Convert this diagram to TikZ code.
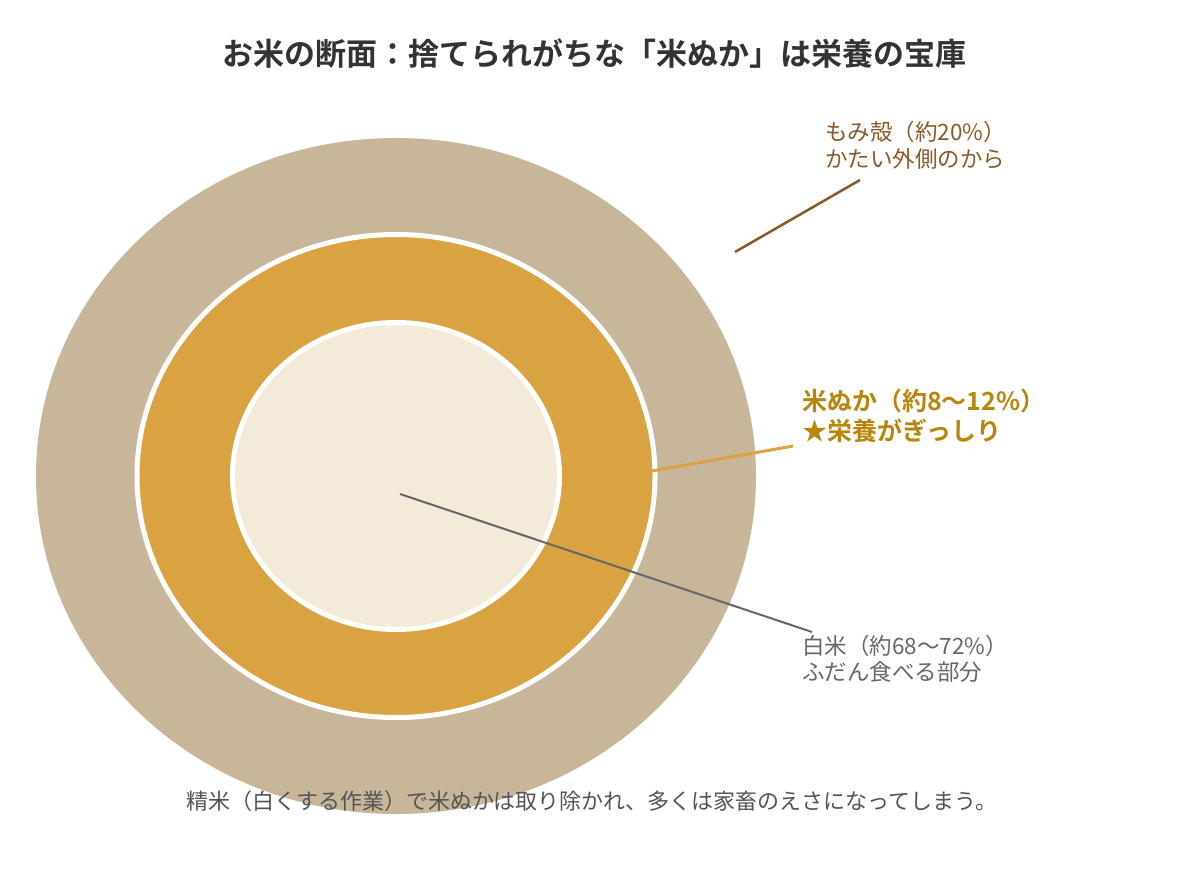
\documentclass[tikz,border=0pt]{standalone}
\usepackage{fontspec}
\setmainfont{Noto Sans CJK JP}[BoldFont={Noto Sans CJK JP Bold}]
\usetikzlibrary{shapes.geometric}

\definecolor{huskfill}{HTML}{C8B69B}
\definecolor{branfill}{HTML}{DAA342}
\definecolor{ricefill}{HTML}{F3EAD9}
\definecolor{husktext}{HTML}{8B5A2B}
\definecolor{brantext}{HTML}{B8860B}
\definecolor{ricetext}{HTML}{666666}

\begin{document}
\begin{tikzpicture}[x=1pt,y=-1pt]
    \tikzstyle{layer}=[ellipse, inner sep=0pt, outer sep=0pt]
    \tikzstyle{husk layer}=[layer, fill=huskfill, minimum width=720pt, minimum height=676pt]
    \tikzstyle{bran layer}=[layer, fill=branfill, draw=white, line width=5pt, minimum width=518pt, minimum height=483pt]
    \tikzstyle{rice layer}=[layer, fill=ricefill, draw=white, line width=5pt, minimum width=327pt, minimum height=307pt]
    \tikzstyle{annot}=[inner sep=0pt, align=left, anchor=base west]
    \tikzstyle{pointer}=[line width=2.5pt]

    \useasboundingbox (0,0) rectangle (1185,885);

    % Draw the title
    \node[inner sep=0pt, anchor=base, text=black!80, font=\bfseries\fontsize{31}{36}\selectfont] (title) at (594,66) {お米の断面：捨てられがちな「米ぬか」は栄養の宝庫};

    % Draw the three layers
    \node[husk layer] (husk) at (396,476) {};
    \node[bran layer] (bran) at (396,476) {};
    \node[rice layer] (rice) at (396,476) {};

    % Annotate the layers (base is the last line)
    \node[annot, text=husktext, font=\fontsize{22.5}{27}\selectfont] (husk-label) at (825,168) {もみ殻（約20\%）\\かたい外側のから};
    \node[annot, text=brantext, font=\bfseries\fontsize{25}{30}\selectfont] (bran-label) at (802,440) {米ぬか（約8〜12\%）\\★栄養がぎっしり};
    \node[annot, text=ricetext, font=\fontsize{22.5}{26}\selectfont] (rice-label) at (802,680) {白米（約68〜72\%）\\ふだん食べる部分};

    % Connect the layers with their labels
    \coordinate (husk-in) at (735,252);
    \coordinate (husk-out) at (860,180);
    \coordinate (bran-in) at (652,471);
    \coordinate (bran-out) at (793,446);
    \coordinate (rice-in) at (400,494);
    \coordinate (rice-out) at (812,632);
    \draw[pointer, draw=husktext] (husk-in) -- (husk-out);
    \draw[pointer, line width=3pt, draw=branfill] (bran-in) -- (bran-out);
    \draw[pointer, line width=2pt, draw=ricetext] (rice-in) -- (rice-out);

    % Draw the caption
    \node[inner sep=0pt, anchor=base, text=black!67, font=\fontsize{22}{26}\selectfont] (caption) at (592,809) {精米（白くする作業）で米ぬかは取り除かれ、多くは家畜のえさになってしまう。};
\end{tikzpicture}
\end{document}
